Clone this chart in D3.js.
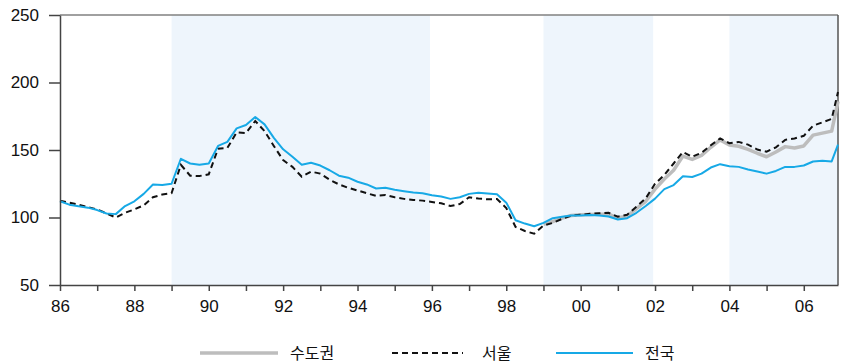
<!DOCTYPE html>
<html><head><meta charset="utf-8">
<script src="https://cdn.jsdelivr.net/npm/d3@7"></script>
<style>
html,body{margin:0;padding:0;background:#fff;}
svg{display:block;}
</style></head>
<body>
<svg id="chart" width="844" height="363"></svg>
<script>
// quarterly time points (decimal years) ending Dec 2006
const dates = [
1986.0,1986.25,1986.5,1986.75,1987.0,1987.25,1987.5,1987.75,1988.0,1988.25,1988.5,1988.75,
1989.0,1989.25,1989.5,1989.75,1990.0,1990.25,1990.5,1990.75,1991.0,1991.25,1991.5,1991.75,
1992.0,1992.25,1992.5,1992.75,1993.0,1993.25,1993.5,1993.75,1994.0,1994.25,1994.5,1994.75,
1995.0,1995.25,1995.5,1995.75,1996.0,1996.25,1996.5,1996.75,1997.0,1997.25,1997.5,1997.75,
1998.0,1998.25,1998.5,1998.75,1999.0,1999.25,1999.5,1999.75,2000.0,2000.25,2000.5,2000.75,
2001.0,2001.25,2001.5,2001.75,2002.0,2002.25,2002.5,2002.75,2003.0,2003.25,2003.5,2003.75,
2004.0,2004.25,2004.5,2004.75,2005.0,2005.25,2005.5,2005.75,2006.0,2006.25,2006.5,2006.75,2006.92];

// 전국 (nationwide)
const nationwide = [
112,109.5,108.3,107.3,105.5,103,102.5,108.5,112,117.5,124.5,124,
125,143.5,140,139,140,153,156,166,168.5,174.5,169,159,
150.5,145,139,140.5,138.5,135,131,129.5,126.5,124.5,121.5,122,
120.5,119.5,118.5,118,116.5,115.5,113.8,115,117.5,118.3,117.8,117.2,
111,98,95.5,93.5,96,99.5,100.5,101.5,101.5,101.9,101.5,100.7,
98.5,99.5,103.5,108.5,114,121,124,130.5,130,132.5,137,139.5,
138,137.5,135.5,134,132.5,134.5,137.5,137.5,138.5,141.5,142,141.5,154];

// 서울 (Seoul)
const seoul = [
112.5,111,109.5,107.6,106,103,100,103.5,106,109,115,117,
118,139,131,130.7,132,151,151.5,163,162.5,171.5,164,153,
142.5,137.5,130.2,134,132.5,128,124.5,122,120,118,116,116.7,
115,113.8,113,112.5,111.5,110.5,108.5,110,115,114,113.5,113.7,
107,93,90,88,94,96,99,101.5,102,102.7,103.2,103.5,
100.6,102,108,114.2,125,131.5,140,148.5,145,148,153.5,158.6,
155,156,154,150.3,148.7,152,157.5,158.5,160.5,168,170.5,173,193];

// 수도권 (capital region), from 1999
const capitalStart = 1999.0;
const capital = [
95,97,99.5,101.5,102,102.3,102.5,102.5,
99.8,101,106.5,112,121,128.5,135,145.5,143,146,152,157.5,
153.7,152.8,150.5,147.6,145,148.5,152.5,151.5,153,161,162.5,164,186];

const shadedPeriods = [[1989.0,1995.95],[1999.0,2001.95],[2004.0,2006.92]];
const yTicks = [50,100,150,200,250];
const xTickYears = d3.range(1986,2007);
const xLabelYears = [1986,1988,1990,1992,1994,1996,1998,2000,2002,2004,2006];
const legendLabels = ["수도권","서울","전국"];

const svg = d3.select("#chart");
const m = {left:60, right:838, top:15, bottom:285};
const x = d3.scaleLinear().domain([1986, 2006.92]).range([m.left, m.right]);
const y = d3.scaleLinear().domain([50, 250]).range([m.bottom, m.top]);

// shading
svg.append("g").selectAll("rect").data(shadedPeriods).join("rect")
  .attr("x", d => x(d[0])).attr("y", m.top)
  .attr("width", d => x(d[1]) - x(d[0])).attr("height", m.bottom - m.top)
  .attr("fill", "#EEF5FC");

// frame top/right
svg.append("line").attr("x1", m.left).attr("x2", m.right).attr("y1", m.top).attr("y2", m.top)
  .attr("stroke", "#808080").attr("stroke-width", 1.5);
svg.append("line").attr("x1", m.right).attr("x2", m.right).attr("y1", m.top).attr("y2", m.bottom)
  .attr("stroke", "#555").attr("stroke-width", 1.5);

const line = d3.line().x(d => x(d[0])).y(d => y(d[1]));
const capDates = dates.filter(d => d >= capitalStart);

svg.append("path").datum(capDates.map((d,i) => [d, capital[i]]))
  .attr("d", line).attr("fill","none").attr("stroke","#BDBDBD").attr("stroke-width",3.5)
  .attr("stroke-linejoin","round");
svg.append("path").datum(dates.map((d,i) => [d, seoul[i]]))
  .attr("d", line).attr("fill","none").attr("stroke","#111").attr("stroke-width",2)
  .attr("stroke-dasharray","6,4");
svg.append("path").datum(dates.map((d,i) => [d, nationwide[i]]))
  .attr("d", line).attr("fill","none").attr("stroke","#17A9E6").attr("stroke-width",2)
  .attr("stroke-linejoin","round");

// y axis
const yAxis = svg.append("g").attr("transform", `translate(${m.left},0)`)
  .call(d3.axisLeft(y).tickValues(yTicks).tickSize(11).tickPadding(10).tickSizeOuter(0));
yAxis.select(".domain").attr("stroke","#444").attr("stroke-width",1.5);
yAxis.selectAll(".tick line").attr("stroke","#444").attr("stroke-width",1.5);
yAxis.selectAll("text").attr("font-family","'Liberation Sans', Arial, sans-serif")
  .attr("font-size",17).attr("fill","#111");

// x axis
const xAxis = svg.append("g").attr("transform", `translate(0,${m.bottom})`)
  .call(d3.axisBottom(x).tickValues(xTickYears).tickSize(6).tickSizeOuter(0)
    .tickFormat(d => xLabelYears.includes(d) ? String(d % 100).padStart(2,"0") : ""));
xAxis.select(".domain").attr("stroke","#444").attr("stroke-width",1.5);
xAxis.selectAll(".tick line").attr("stroke","#444").attr("stroke-width",1.5);
xAxis.selectAll("text").attr("font-family","'Liberation Sans', Arial, sans-serif")
  .attr("font-size",17).attr("fill","#111").attr("dy","1.05em");

// legend
const legend = [
  {label: legendLabels[0], x1:200, x2:278, tx:290, color:"#BDBDBD", w:3.5, dash:null},
  {label: legendLabels[1], x1:392, x2:463, tx:482, color:"#111", w:2, dash:"6,4"},
  {label: legendLabels[2], x1:556, x2:633, tx:645, color:"#17A9E6", w:2, dash:null}
];
const lg = svg.append("g");
legend.forEach(l => {
  lg.append("line").attr("x1",l.x1).attr("x2",l.x2).attr("y1",353).attr("y2",353)
    .attr("stroke",l.color).attr("stroke-width",l.w).attr("stroke-dasharray",l.dash);
  lg.append("text").attr("x",l.tx).attr("y",353).attr("dy","0.36em")
    .attr("font-family","'Noto Sans CJK KR', sans-serif").attr("font-size",16)
    .attr("fill","#111").text(l.label);
});
</script>
</body></html>
